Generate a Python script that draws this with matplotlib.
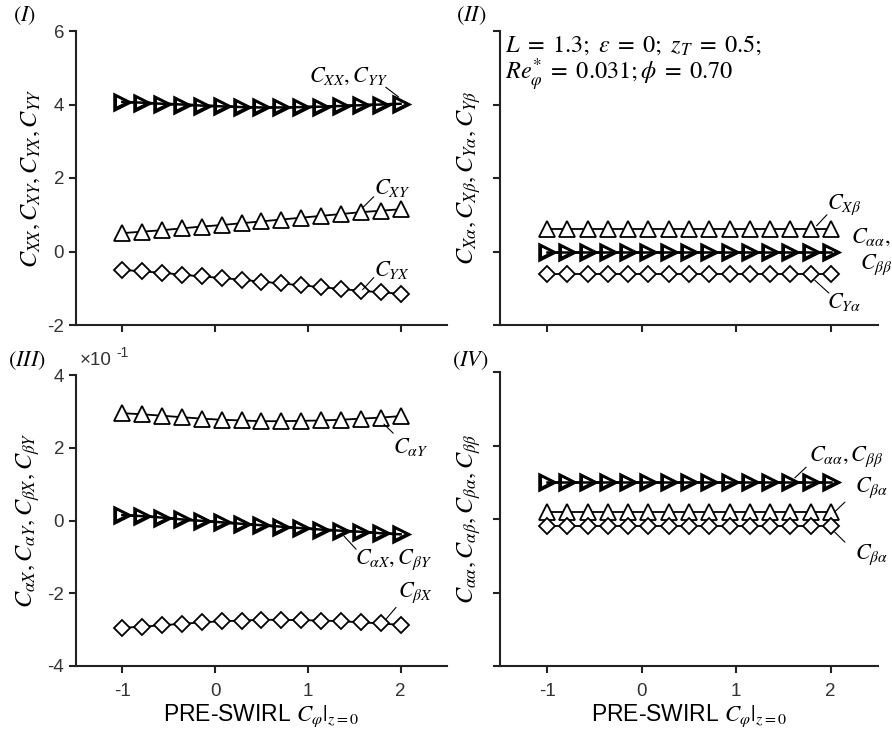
import numpy as np
import matplotlib
matplotlib.use('Agg')
import matplotlib.pyplot as plt

plt.rcParams['font.family'] = ['Liberation Sans', 'DejaVu Sans']
plt.rcParams['mathtext.fontset'] = 'stix'
plt.rcParams['axes.unicode_minus'] = False

# pre-swirl values (15 points from -1 to 2)
c_phi = [-1.0, -0.786, -0.571, -0.357, -0.143, 0.071, 0.286, 0.5,
         0.714, 0.929, 1.143, 1.357, 1.571, 1.786, 2.0]

# (I) direct coefficients
c_xx = [4.07, 4.05, 4.02, 4.00, 3.97, 3.95, 3.93, 3.92, 3.92, 3.93, 3.94, 3.96, 3.98, 4.00, 4.02]
c_yy = [4.07, 4.05, 4.02, 4.00, 3.97, 3.95, 3.93, 3.92, 3.92, 3.93, 3.94, 3.96, 3.98, 4.00, 4.02]
c_xy = [0.50, 0.54, 0.58, 0.63, 0.68, 0.72, 0.77, 0.82, 0.87, 0.92, 0.97, 1.02, 1.07, 1.11, 1.15]
c_yx = [-0.50, -0.54, -0.58, -0.63, -0.68, -0.72, -0.77, -0.82, -0.87, -0.92, -0.97, -1.02, -1.07, -1.11, -1.15]

# (II) coupled coefficients
c_xb = [0.6] * 15
c_xa = [0.0] * 15
c_ya = [-0.6] * 15

# (III) values in units of 1e-1
c_ay = [2.95, 2.92, 2.88, 2.84, 2.80, 2.77, 2.75, 2.73, 2.73, 2.74, 2.75, 2.77, 2.80, 2.83, 2.87]
c_ax = [0.15, 0.12, 0.08, 0.03, -0.01, -0.05, -0.09, -0.13, -0.17, -0.21, -0.25, -0.28, -0.31, -0.35, -0.38]
c_bx = [-2.95, -2.92, -2.88, -2.84, -2.80, -2.77, -2.75, -2.73, -2.73, -2.74, -2.75, -2.77, -2.80, -2.83, -2.87]

# (IV) angular coefficients
c_aa = [1.0] * 15
c_ba_up = [0.2] * 15
c_ba_lo = [-0.18] * 15

fig = plt.figure(figsize=(8.92, 7.38), dpi=100)
W, H = 892.0, 738.0

def make_ax(left, top, right, bottom):
    return fig.add_axes([left / W, 1 - bottom / H, (right - left) / W, (bottom - top) / H])

ax1 = make_ax(76, 31, 447, 325)
ax2 = make_ax(500, 31, 878, 325)
ax3 = make_ax(76, 375, 447, 666)
ax4 = make_ax(500, 372, 878, 666)

def style(ax, ylim, ylabel, yticklabels=True, xticklabels=True):
    ax.set_xlim(-1.5, 2.5)
    ax.set_ylim(*ylim)
    ax.set_yticks(np.linspace(ylim[0], ylim[1], 5))
    ax.set_xticks([-1, 0, 1, 2])
    for s in ['top', 'right']:
        ax.spines[s].set_visible(False)
    for s in ['left', 'bottom']:
        ax.spines[s].set_linewidth(1.5)
        ax.spines[s].set_color('#222222')
    ax.tick_params(direction='out', length=5, width=1.5, labelsize=13.5, color='#222222',
                   labelcolor='#333333')
    ax.tick_params(axis='x', pad=7)
    if not yticklabels:
        ax.set_yticklabels([])
    if not xticklabels:
        ax.set_xticklabels([])
    ax.set_ylabel(ylabel, fontsize=17.5, labelpad=4)

def series(ax, y, marker, ms):
    ax.plot(c_phi, y, color='black', lw=1.3, marker=marker, ms=ms,
            mfc='white', mec='black', mew=1.3)

def bold_series(ax, y1, y2):
    # two coincident curves drawn on top of each other
    ax.plot(c_phi, y1, color='black', lw=1.8, marker='>', ms=11,
            mfc='white', mec='black', mew=1.8)
    ax.plot(c_phi, y2, color='black', lw=1.8, marker='>', ms=8.5,
            mfc='none', mec='black', mew=1.5)

def label(ax, txt, pos, line=None, ha='center'):
    ax.text(pos[0], pos[1], txt, fontsize=16, ha=ha, va='center', clip_on=False)
    if line is not None:
        ax.annotate('', xy=line[1], xytext=line[0],
                    arrowprops=dict(arrowstyle='-', lw=0.8, color='black',
                                    shrinkA=0, shrinkB=0), annotation_clip=False)

# (I)
bold_series(ax1, c_xx, c_yy)
series(ax1, c_xy, '^', 11)
series(ax1, c_yx, 'D', 8.5)
style(ax1, (-2, 6), r'$C_{XX}, C_{XY}, C_{YX}, C_{YY}$', xticklabels=False)
label(ax1, r'$C_{XX}, C_{YY}$', (1.44, 4.75), [(1.84, 4.47), (1.98, 4.20)])
label(ax1, r'$C_{XY}$', (1.91, 1.73), [(1.71, 1.49), (1.59, 1.19)])
label(ax1, r'$C_{YX}$', (1.91, -0.50), [(1.71, -0.71), (1.59, -1.04)])

# (II)
series(ax2, c_xb, '^', 11)
bold_series(ax2, c_xa, c_xa)
series(ax2, c_ya, 'D', 8.5)
style(ax2, (-2, 6), r'$C_{X\alpha}, C_{X\beta}, C_{Y\alpha}, C_{Y\beta}$',
      yticklabels=False, xticklabels=False)
ax2.text(-1.45, 5.62, r'$L\;=\;1.3;\ \varepsilon\;=\;0;\ z_T\;=\;0.5;$', fontsize=17.5,
         ha='left', va='center')
ax2.text(-1.45, 4.80, r'$Re_{\varphi}^{*}\;=\;0.031;\phi\;=\;0.70$', fontsize=17.5,
         ha='left', va='center')
label(ax2, r'$C_{X\beta}$', (2.14, 1.27), [(1.96, 1.0), (1.85, 0.70)])
label(ax2, r'$C_{\alpha\alpha},$', (2.42, 0.37))
label(ax2, r'$C_{\beta\beta}$', (2.48, -0.36))
label(ax2, r'$C_{Y\alpha}$', (2.14, -1.37), [(1.83, -0.78), (1.98, -1.13)])

# (III)
series(ax3, c_ay, '^', 11)
bold_series(ax3, c_ax, c_ax)
series(ax3, c_bx, 'D', 8.5)
style(ax3, (-4, 4), r'$C_{\alpha X}, C_{\alpha Y}, C_{\beta X}, C_{\beta Y}$')
ax3.set_xlabel(r'PRE-SWIRL $C_{\varphi}|_{z=0}$', fontsize=16.5, labelpad=2)
label(ax3, r'$C_{\alpha Y}$', (2.11, 2.01), [(1.82, 2.65), (1.92, 2.40)])
label(ax3, r'$C_{\alpha X}, C_{\beta Y}$', (1.92, -1.07), [(1.39, -0.43), (1.52, -0.79)])
label(ax3, r'$C_{\beta X}$', (2.16, -1.98), [(1.95, -2.39), (1.84, -2.72)])

# (IV)
bold_series(ax4, c_aa, c_aa)
series(ax4, c_ba_up, '^', 11)
series(ax4, c_ba_lo, 'D', 8.5)
style(ax4, (-4, 4), r'$C_{\alpha\alpha}, C_{\alpha\beta}, C_{\beta\alpha}, C_{\beta\beta}$',
      yticklabels=False)
ax4.set_xlabel(r'PRE-SWIRL $C_{\varphi}|_{z=0}$', fontsize=16.5, labelpad=2)
label(ax4, r'$C_{\alpha\alpha}, C_{\beta\beta}$', (2.16, 1.69), [(1.74, 1.41), (1.62, 1.12)])
label(ax4, r'$C_{\beta\alpha}$', (2.43, 0.84), [(2.15, 0.46), (2.04, 0.19)])
label(ax4, r'$C_{\beta\alpha}$', (2.43, -0.98), [(2.15, -0.63), (2.04, -0.35)])

# panel tags and exponent
fig.text(25 / W, 1 - 16 / H, r'$(I)$', fontsize=16, ha='center', va='center')
fig.text(471 / W, 1 - 16 / H, r'$(II)$', fontsize=16, ha='center', va='center')
fig.text(27 / W, 1 - 361 / H, r'$(III)$', fontsize=16, ha='center', va='center')
fig.text(470 / W, 1 - 361 / H, r'$(IV)$', fontsize=16, ha='center', va='center')
fig.text(80 / W, 1 - 361 / H, '×10', fontsize=13.5, ha='left', va='center', color='#333333')
fig.text(116 / W, 1 - 353 / H, '-1', fontsize=10, ha='left', va='center', color='#333333')

fig.savefig('out.png', dpi=100)
